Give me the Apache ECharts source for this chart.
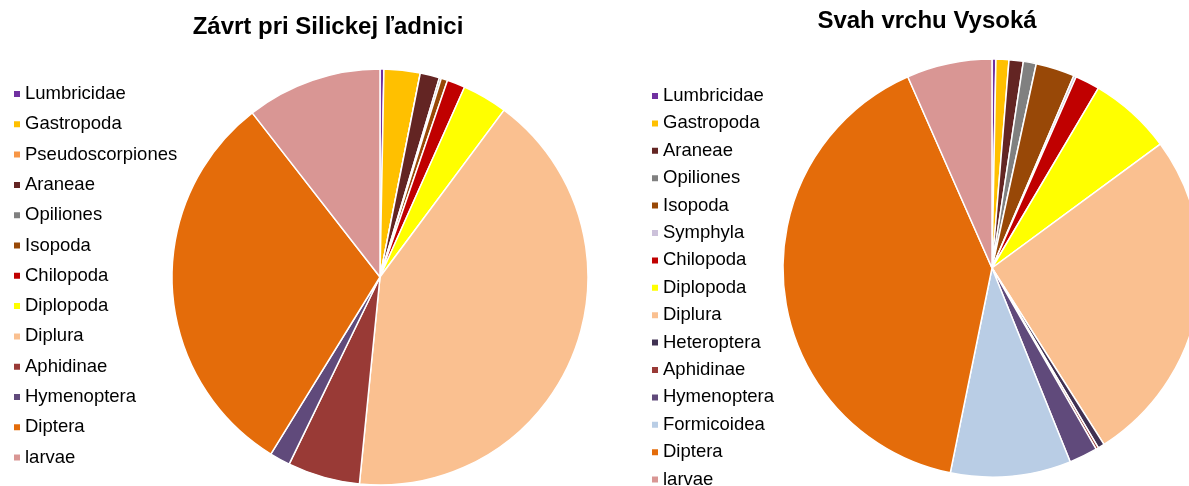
<!DOCTYPE html>
<html>
<head>
<meta charset="utf-8">
<script src="https://cdn.jsdelivr.net/npm/echarts@6/dist/echarts.min.js"></script>
<style>
  html, body { margin: 0; padding: 0; background: #fff; }
  #chart { width: 1189px; height: 486px; }
</style>
</head>
<body>
<div id="chart"></div>
<script>
// percentages
const leftTitle = 'Závrt pri Silickej ľadnici'
const leftNames = ['Lumbricidae', 'Gastropoda', 'Pseudoscorpiones', 'Araneae', 'Opiliones', 'Isopoda',
  'Chilopoda', 'Diplopoda', 'Diplura', 'Aphidinae', 'Hymenoptera', 'Diptera', 'larvae']
const leftValues = [0.3, 2.8, 0, 1.5, 0.15, 0.5, 1.4, 3.5, 41.3, 5.6, 1.6, 30.6, 10.5]

const rightTitle = 'Svah vrchu Vysoká'
const rightNames = ['Lumbricidae', 'Gastropoda', 'Araneae', 'Opiliones', 'Isopoda', 'Symphyla',
  'Chilopoda', 'Diplopoda', 'Diplura', 'Heteroptera', 'Aphidinae', 'Hymenoptera', 'Formicoidea', 'Diptera', 'larvae']
const rightValues = [0.3, 1.0, 1.1, 1.0, 3.0, 0.2, 1.9, 6.4, 26.1, 0.5, 0.2, 2.2, 9.3, 40.2, 6.6]

const colors = {
  Lumbricidae: '#7030A0',
  Gastropoda: '#FFC000',
  Pseudoscorpiones: '#F79646',
  Araneae: '#632523',
  Opiliones: '#808080',
  Isopoda: '#984807',
  Symphyla: '#CCC1DA',
  Chilopoda: '#C00000',
  Diplopoda: '#FFFF00',
  Diplura: '#FAC090',
  Heteroptera: '#403152',
  Aphidinae: '#993A36',
  Hymenoptera: '#604A7B',
  Formicoidea: '#B9CDE5',
  Diptera: '#E46C0A',
  larvae: '#D99694'
}

const toData = (names, values) => names.map((n, i) => ({
  name: n,
  value: values[i],
  itemStyle: { color: colors[n] }
}))

const font = 'Arial, "Liberation Sans", sans-serif'

const chart = echarts.init(document.getElementById('chart'))

const legendBase = {
  orient: 'vertical',
  icon: 'rect',
  itemWidth: 8,
  itemHeight: 8,
  height: 440,
  selectedMode: false,
  textStyle: { fontFamily: font, fontSize: 18.5, color: '#000', lineHeight: 22, padding: [0, 0, 0, -1] }
}

const option = {
  animation: false,
  title: [
    {
      text: leftTitle,
      left: 323, top: 10, textAlign: 'center',
      textStyle: { fontFamily: font, fontSize: 24, fontWeight: 'bold', color: '#000' }
    },
    {
      text: rightTitle,
      left: 922, top: 4, textAlign: 'center',
      textStyle: { fontFamily: font, fontSize: 24, fontWeight: 'bold', color: '#000' }
    }
  ],
  legend: [
    Object.assign({}, legendBase, {
      left: 7, top: 78, itemGap: 8.3,
      data: leftNames
    }),
    Object.assign({}, legendBase, {
      left: 645, top: 80, itemGap: 5.4,
      data: rightNames
    })
  ],
  series: [
    {
      name: leftTitle,
      type: 'pie',
      center: [380, 277],
      radius: 208,
      startAngle: 90,
      clockwise: true,
      label: { show: false },
      labelLine: { show: false },
      itemStyle: { borderColor: '#fff', borderWidth: 1.5 },
      emphasis: { disabled: true },
      data: toData(leftNames, leftValues)
    },
    {
      name: rightTitle,
      type: 'pie',
      center: [992, 268],
      radius: 209,
      startAngle: 90,
      clockwise: true,
      label: { show: false },
      labelLine: { show: false },
      itemStyle: { borderColor: '#fff', borderWidth: 1.5 },
      emphasis: { disabled: true },
      data: toData(rightNames, rightValues)
    }
  ]
}

chart.setOption(option)
</script>
</body>
</html>
